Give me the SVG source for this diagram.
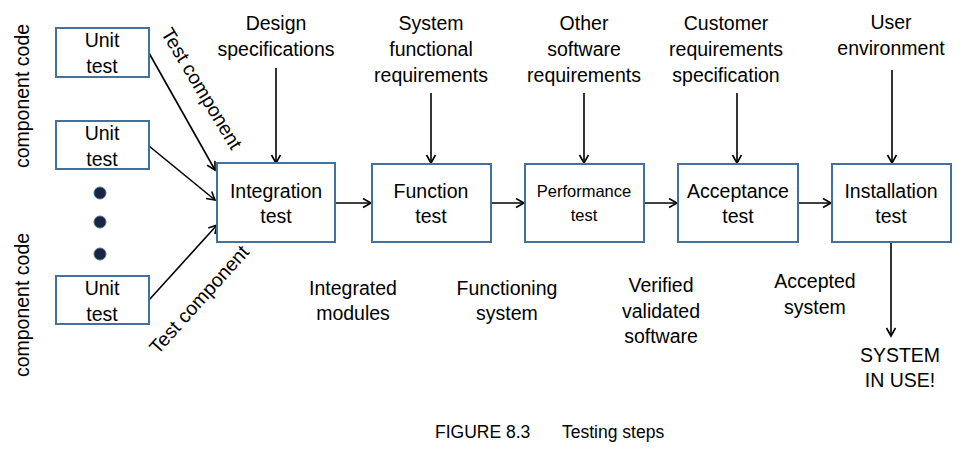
<svg xmlns="http://www.w3.org/2000/svg" width="974" height="462" viewBox="0 0 974 462">
<defs>
<style>
text{font-family:"Liberation Sans",Arial,sans-serif;font-size:19.5px;fill:#000;text-anchor:middle}
.box{fill:#fff;stroke:#41719C;stroke-width:2}
.c{fill:none;stroke:#000;stroke-width:1.6}
.dot{fill:#1B2440;stroke:#41719C;stroke-width:1}
.sm{font-size:16.5px}
.cap{font-size:17.5px;text-anchor:start}
</style>
<marker id="ah" markerWidth="12" markerHeight="12" refX="9" refY="5" orient="auto" markerUnits="userSpaceOnUse">
<path d="M1,0.5 L9,5 L1,9.5" fill="none" stroke="#000" stroke-width="1.6"/>
</marker>
</defs>
<rect width="974" height="462" fill="#fff"/>

<g id="connectors">
<line class="c" x1="149" y1="53" x2="215" y2="170" marker-end="url(#ah)"/>
<line class="c" x1="149" y1="146" x2="215" y2="200" marker-end="url(#ah)"/>
<line class="c" x1="149" y1="300" x2="217" y2="225" marker-end="url(#ah)"/>
<line class="c" x1="276" y1="68" x2="276" y2="163" marker-end="url(#ah)"/>
<line class="c" x1="431" y1="93" x2="431" y2="163" marker-end="url(#ah)"/>
<line class="c" x1="584" y1="93" x2="584" y2="163" marker-end="url(#ah)"/>
<line class="c" x1="737" y1="93" x2="737" y2="163" marker-end="url(#ah)"/>
<line class="c" x1="892" y1="70" x2="892" y2="163" marker-end="url(#ah)"/>
<line class="c" x1="335" y1="203" x2="371" y2="203" marker-end="url(#ah)"/>
<line class="c" x1="491" y1="203" x2="524" y2="203" marker-end="url(#ah)"/>
<line class="c" x1="644" y1="203" x2="677" y2="203" marker-end="url(#ah)"/>
<line class="c" x1="798" y1="203" x2="831" y2="203" marker-end="url(#ah)"/>
<line class="c" x1="891" y1="242" x2="891" y2="336" marker-end="url(#ah)"/>
</g>

<g id="unit1"><rect class="box" x="56" y="28" width="93" height="49"/><text x="102" y="47">Unit</text><text x="102" y="73">test</text></g>
<g id="unit2"><rect class="box" x="56" y="121" width="93" height="48"/><text x="102" y="140">Unit</text><text x="102" y="166">test</text></g>
<g id="unit3"><rect class="box" x="56" y="276" width="93" height="48"/><text x="102" y="295">Unit</text><text x="102" y="321">test</text></g>

<g id="dots">
<circle class="dot" cx="100" cy="193" r="6"/>
<circle class="dot" cx="100" cy="222" r="6"/>
<circle class="dot" cx="100" cy="254" r="6"/>
</g>

<g id="integration"><rect class="box" x="217" y="163" width="118" height="79"/><text x="276" y="198">Integration</text><text x="276" y="223">test</text></g>
<g id="function"><rect class="box" x="372" y="164" width="119" height="78"/><text x="431" y="198">Function</text><text x="431" y="223">test</text></g>
<g id="performance"><rect class="box" x="525" y="164" width="119" height="78"/><text class="sm" x="584" y="197">Performance</text><text class="sm" x="584" y="221">test</text></g>
<g id="acceptance"><rect class="box" x="678" y="164" width="120" height="78"/><text x="738" y="198">Acceptance</text><text x="738" y="223">test</text></g>
<g id="installation"><rect class="box" x="832" y="164" width="119" height="78"/><text x="891" y="198">Installation</text><text x="891" y="223">test</text></g>

<g id="labels-left">
<text transform="translate(29,96) rotate(-90)">component code</text>
<text transform="translate(29,305) rotate(-90)">component code</text>
<text transform="translate(196,92) rotate(59)">Test component</text>
<text transform="translate(204,304) rotate(-48)">Test component</text>
</g>

<g id="labels-top">
<text x="276" y="30">Design</text><text x="276" y="56">specifications</text>
<text x="431" y="30">System</text><text x="431" y="56">functional</text><text x="431" y="82">requirements</text>
<text x="584" y="30">Other</text><text x="584" y="56">software</text><text x="584" y="82">requirements</text>
<text x="726" y="30">Customer</text><text x="726" y="56">requirements</text><text x="726" y="82">specification</text>
<text x="891" y="29">User</text><text x="891" y="55">environment</text>
</g>

<g id="labels-bottom">
<text x="353" y="295">Integrated</text><text x="353" y="320">modules</text>
<text x="507" y="295">Functioning</text><text x="507" y="320">system</text>
<text x="661" y="292">Verified</text><text x="661" y="318">validated</text><text x="661" y="343">software</text>
<text x="815" y="288">Accepted</text><text x="815" y="314">system</text>
<text x="900" y="362">SYSTEM</text><text x="900" y="387">IN USE!</text>
</g>

<g id="caption">
<text class="cap" x="435" y="438">FIGURE 8.3</text>
<text class="cap" x="562" y="438">Testing steps</text>
</g>
</svg>
